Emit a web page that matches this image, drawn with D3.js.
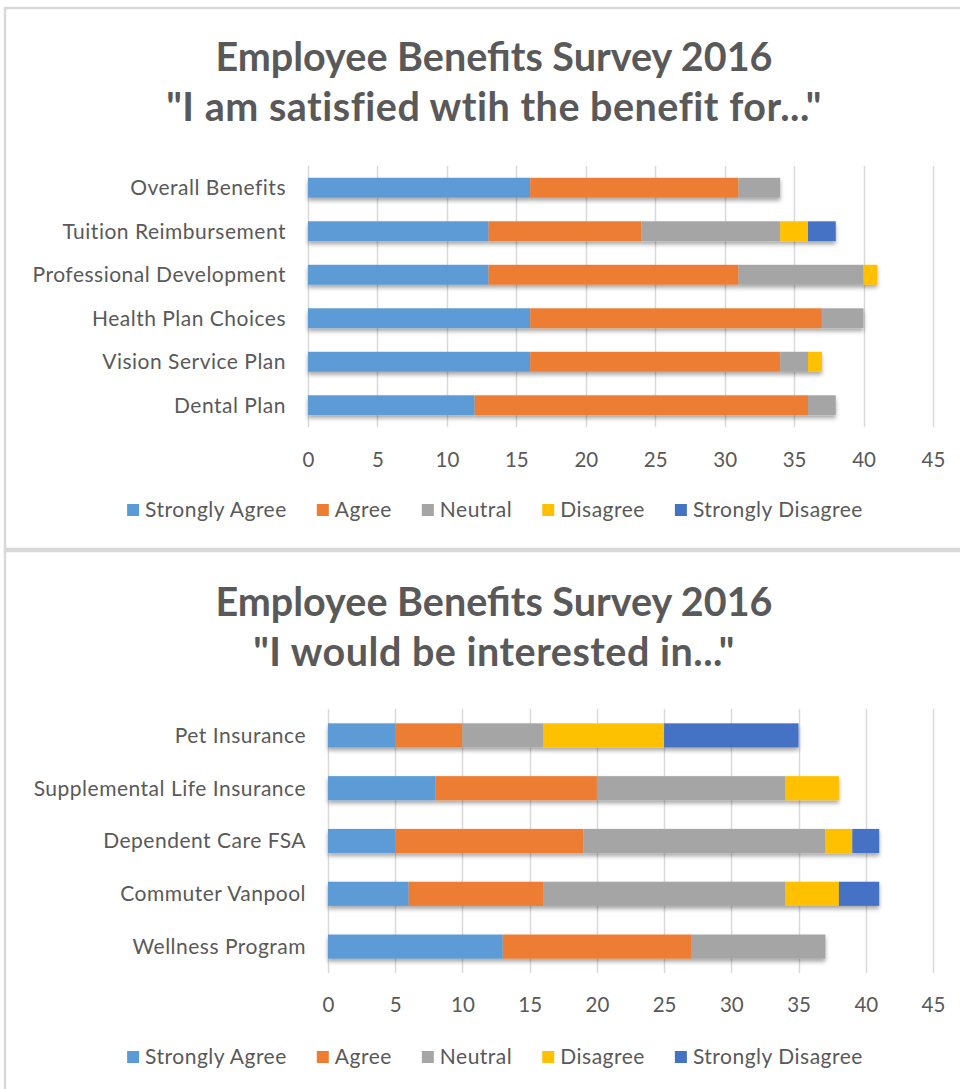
<!DOCTYPE html>
<html>
<head>
<meta charset="utf-8">
<script src="https://cdn.jsdelivr.net/npm/d3@7"></script>
<style>
  body { margin: 0; background: #fff; }
  svg text { font-family: Lato, "Open Sans", sans-serif; fill: #595959; }
</style>
</head>
<body>
<svg id="chart" width="960" height="1089"></svg>
<script>
(function () {
  'use strict';

  const seriesNames = ["Strongly Agree", "Agree", "Neutral", "Disagree", "Strongly Disagree"];
  const seriesColors = ["#5B9BD5", "#ED7D31", "#A5A5A5", "#FFC000", "#4472C4"];
  const tickValues = [0, 5, 10, 15, 20, 25, 30, 35, 40, 45];

  // "I am satisfied wtih the benefit for..."
  const satisfiedCategories = ["Overall Benefits", "Tuition Reimbursement", "Professional Development",
    "Health Plan Choices", "Vision Service Plan", "Dental Plan"];
  const satisfiedStronglyAgree = [16, 13, 13, 16, 16, 12];
  const satisfiedAgree = [15, 11, 18, 21, 18, 24];
  const satisfiedNeutral = [3, 10, 9, 3, 2, 2];
  const satisfiedDisagree = [0, 2, 1, 0, 1, 0];
  const satisfiedStronglyDisagree = [0, 2, 0, 0, 0, 0];

  // "I would be interested in..."
  const interestCategories = ["Pet Insurance", "Supplemental Life Insurance", "Dependent Care FSA",
    "Commuter Vanpool", "Wellness Program"];
  const interestStronglyAgree = [5, 8, 5, 6, 13];
  const interestAgree = [5, 12, 14, 10, 14];
  const interestNeutral = [6, 14, 18, 18, 10];
  const interestDisagree = [9, 4, 2, 4, 0];
  const interestStronglyDisagree = [10, 0, 2, 3, 0];

  const svg = d3.select("#chart");

  const defs = svg.append("defs");
  defs.append("filter")
    .attr("id", "shadow")
    .attr("x", "-5%").attr("y", "-30%")
    .attr("width", "110%").attr("height", "170%")
    .append("feDropShadow")
    .attr("dx", 0).attr("dy", 3)
    .attr("stdDeviation", 2)
    .attr("flood-color", "#000")
    .attr("flood-opacity", 0.35);

  // panel frames
  svg.append("rect")
    .attr("x", 5).attr("y", 8)
    .attr("width", 970).attr("height", 541)
    .attr("fill", "none").attr("stroke", "#D9D9D9").attr("stroke-width", 2.5);
  svg.append("rect")
    .attr("x", 5).attr("y", 551)
    .attr("width", 970).attr("height", 560)
    .attr("fill", "none").attr("stroke", "#D9D9D9").attr("stroke-width", 2.5);

  drawPanel({
    titles: ["Employee Benefits Survey 2016", "\"I am satisfied wtih the benefit for...\""],
    titleY: [71, 121],
    categories: satisfiedCategories,
    values: [satisfiedStronglyAgree, satisfiedAgree, satisfiedNeutral, satisfiedDisagree, satisfiedStronglyDisagree],
    left: 308, right: 933, top: 166, bottom: 427,
    tickY: 467, legendY: 510
  });

  drawPanel({
    titles: ["Employee Benefits Survey 2016", "\"I would be interested in...\""],
    titleY: [616, 666],
    categories: interestCategories,
    values: [interestStronglyAgree, interestAgree, interestNeutral, interestDisagree, interestStronglyDisagree],
    left: 328, right: 933, top: 709, bottom: 973,
    tickY: 1012, legendY: 1057
  });

  function drawPanel(cfg) {
    const g = svg.append("g");

    // titles
    g.selectAll("text.title")
      .data(cfg.titles)
      .join("text")
      .attr("class", "title")
      .attr("x", 494)
      .attr("y", (d, i) => cfg.titleY[i])
      .attr("text-anchor", "middle")
      .attr("font-size", 39.5)
      .attr("font-weight", "bold")
      .attr("letter-spacing", (d, i) => i === 0 ? 0 : 0.5)
      .text(d => d);

    const x = d3.scaleLinear().domain([0, 45]).range([cfg.left, cfg.right]);
    const y = d3.scaleBand()
      .domain(cfg.categories)
      .range([cfg.top, cfg.bottom])
      .paddingInner(0.543)
      .paddingOuter(0.2715);

    // gridlines
    g.append("g")
      .selectAll("line")
      .data(tickValues)
      .join("line")
      .attr("x1", d => Math.round(x(d)) + 0.5)
      .attr("x2", d => Math.round(x(d)) + 0.5)
      .attr("y1", cfg.top)
      .attr("y2", cfg.bottom)
      .attr("stroke", "#D9D9D9")
      .attr("stroke-width", 1.5);

    // tick labels
    const axis = g.append("g")
      .attr("transform", `translate(0,${cfg.tickY - 15})`)
      .call(d3.axisBottom(x).tickValues(tickValues).tickSize(0).tickPadding(0));
    axis.select(".domain").remove();
    axis.selectAll("text")
      .attr("font-size", 20.5)
      .attr("dy", "0.71em")
      .style("font-family", "Lato, sans-serif")
      .style("fill", "#595959");

    // category labels
    g.append("g")
      .selectAll("text")
      .data(cfg.categories)
      .join("text")
      .attr("x", cfg.left - 22)
      .attr("y", d => y(d) + y.bandwidth() / 2)
      .attr("dy", "0.35em")
      .attr("text-anchor", "end")
      .attr("font-size", 21)
      .attr("letter-spacing", 0.5)
      .text(d => d);

    // stacked bars
    const rows = cfg.categories.map((c, i) => {
      const row = { category: c };
      seriesNames.forEach((s, k) => { row[s] = cfg.values[k][i]; });
      return row;
    });
    const stacked = d3.stack().keys(seriesNames)(rows);

    const barsG = g.append("g").attr("filter", "url(#shadow)");
    barsG.selectAll("g")
      .data(stacked)
      .join("g")
      .attr("fill", (d, i) => seriesColors[i])
      .selectAll("rect")
      .data(d => d.filter(p => p[1] > p[0]))
      .join("rect")
      .attr("x", d => x(d[0]))
      .attr("y", d => y(d.data.category))
      .attr("width", d => x(d[1]) - x(d[0]))
      .attr("height", y.bandwidth());

    // legend
    const legend = g.append("g")
      .attr("transform", `translate(0,${cfg.legendY})`);
    const items = legend.selectAll("g")
      .data(seriesNames)
      .join("g");
    items.append("rect")
      .attr("y", -6)
      .attr("width", 12)
      .attr("height", 12)
      .attr("fill", (d, i) => seriesColors[i]);
    items.append("text")
      .attr("x", 18)
      .attr("dy", "0.35em")
      .attr("font-size", 21)
      .attr("letter-spacing", 0.5)
      .text(d => d);

    // lay out legend items centred
    const gap = 30;
    const widths = [];
    items.each(function () { widths.push(this.getBBox().width); });
    const total = d3.sum(widths) + gap * (widths.length - 1);
    let cx = 495 - total / 2;
    items.attr("transform", (d, i) => {
      const t = `translate(${cx},0)`;
      cx += widths[i] + gap;
      return t;
    });
  }
})();
</script>
</body>
</html>
